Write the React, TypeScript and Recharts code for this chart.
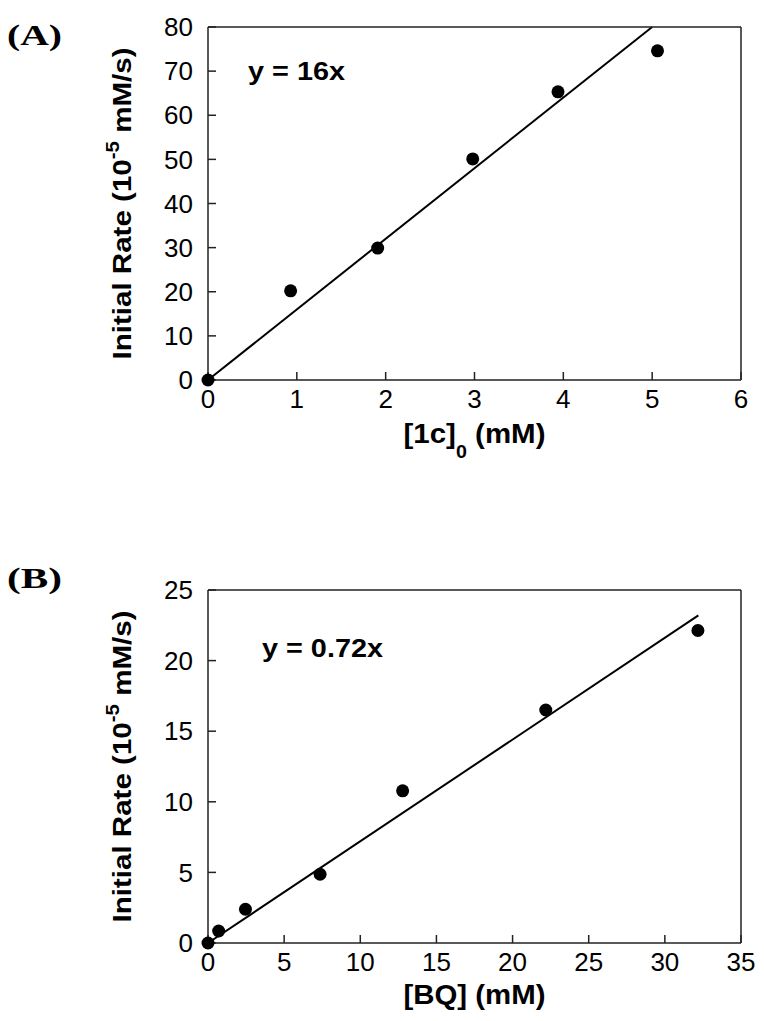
import React from 'react';
import { ComposedChart, Line, Scatter, XAxis, YAxis } from 'recharts';

// panel A: initial rate vs [1c]0
const concA = [0, 0.93, 1.91, 2.98, 3.94, 5.06];
const rateA = [0, 20.2, 29.9, 50.1, 65.3, 74.6];
const fitAx = [0, 5];
const fitAy = [0, 80];
const ticksAx = [0, 1, 2, 3, 4, 5, 6];
const ticksAy = [0, 10, 20, 30, 40, 50, 60, 70, 80];

// panel B: initial rate vs [BQ]
const concB = [0, 0.7, 2.46, 7.36, 12.78, 22.18, 32.17];
const rateB = [0, 0.85, 2.39, 4.87, 10.78, 16.5, 22.13];
const fitBx = [0, 32.2];
const fitBy = [0, 23.2];
const ticksBx = [0, 5, 10, 15, 20, 25, 30, 35];
const ticksBy = [0, 5, 10, 15, 20, 25];

const FONT = '"Liberation Sans", Arial, Helvetica, sans-serif';
const SERIF = '"Liberation Serif", "Times New Roman", serif';
const AXIS = '#222';

const toPoints = (xs: number[], ys: number[]) => xs.map((x, i) => ({ x, y: ys[i] }));

const Dot = (props: any) => <circle cx={props.cx} cy={props.cy} r={6.5} fill="#000" />;
const NoTick = () => <g />;

const tickStyle = { fontFamily: FONT, fontSize: 26, fill: '#000' };

// the original lettering is wide, so stretch the bold labels a little
const yLabel = (props: any) => {
  const vb = props.viewBox;
  const cx = vb.x - 17;
  const cy = vb.y + vb.height / 2;
  return (
    <text
      x={cx}
      y={cy}
      transform={`rotate(-90, ${cx}, ${cy})`}
      textAnchor="middle"
      fontFamily={FONT}
      fontWeight="bold"
      fontSize={26}
      fill="#000"
      textLength={312}
      lengthAdjust="spacingAndGlyphs"
    >
      Initial Rate (10
      <tspan dy={-12} fontSize={18}>-5</tspan>
      <tspan dy={12}> mM/s)</tspan>
    </text>
  );
};

const xLabelA = (props: any) => {
  const vb = props.viewBox;
  return (
    <text
      x={vb.x + vb.width / 2}
      y={vb.y + 63}
      textAnchor="middle"
      fontFamily={FONT}
      fontWeight="bold"
      fontSize={27}
      fill="#000"
      textLength={142}
      lengthAdjust="spacingAndGlyphs"
    >
      [1c]
      <tspan dy={15} fontSize={18}>0</tspan>
      <tspan dy={-15}> (mM)</tspan>
    </text>
  );
};

const xLabelB = (props: any) => {
  const vb = props.viewBox;
  return (
    <text
      x={vb.x + vb.width / 2}
      y={vb.y + 61}
      textAnchor="middle"
      fontFamily={FONT}
      fontWeight="bold"
      fontSize={27}
      fill="#000"
      textLength={142}
      lengthAdjust="spacingAndGlyphs"
    >
      [BQ] (mM)
    </text>
  );
};

interface PanelProps {
  points: { x: number; y: number }[];
  fit: { x: number; y: number }[];
  xDomain: [number, number];
  yDomain: [number, number];
  xTicks: number[];
  yTicks: number[];
  height: number;
  margin: { top: number; right: number; bottom: number; left: number };
  xLabel: (p: any) => React.ReactElement;
  equation: string;
  eqPos: { x: number; y: number; len: number };
}

const Panel = ({ points, fit, xDomain, yDomain, xTicks, yTicks, height, margin, xLabel, equation, eqPos }: PanelProps) => (
  <ComposedChart width={764} height={height} margin={margin}>
    <XAxis
      xAxisId="main"
      type="number"
      dataKey="x"
      domain={xDomain}
      ticks={xTicks}
      interval={0}
      height={30}
      tickSize={-8}
      tickMargin={18}
      tick={tickStyle}
      stroke={AXIS}
      strokeWidth={1.5}
      label={{ content: xLabel }}
    />
    <XAxis
      xAxisId="top"
      orientation="top"
      type="number"
      dataKey="x"
      domain={xDomain}
      ticks={xTicks}
      interval={0}
      height={1}
      tickSize={-8}
      tick={NoTick}
      stroke={AXIS}
      strokeWidth={1.5}
    />
    <YAxis
      yAxisId="main"
      type="number"
      dataKey="y"
      domain={yDomain}
      ticks={yTicks}
      interval={0}
      width={60}
      tickSize={-8}
      tickMargin={23}
      tick={tickStyle}
      stroke={AXIS}
      strokeWidth={1.5}
      label={{ content: yLabel }}
    />
    <YAxis
      yAxisId="right"
      orientation="right"
      type="number"
      dataKey="y"
      domain={yDomain}
      ticks={yTicks}
      interval={0}
      width={1}
      tickSize={-8}
      tick={NoTick}
      stroke={AXIS}
      strokeWidth={1.5}
    />
    <Line
      xAxisId="main"
      yAxisId="main"
      data={fit}
      dataKey="y"
      type="linear"
      stroke="#000"
      strokeWidth={2}
      dot={false}
      isAnimationActive={false}
    />
    <Scatter
      xAxisId="main"
      yAxisId="main"
      data={points}
      dataKey="y"
      fill="#000"
      shape={Dot}
      isAnimationActive={false}
    />
    <text
      x={eqPos.x}
      y={eqPos.y}
      fontFamily={FONT}
      fontWeight="bold"
      fontSize={25}
      fill="#000"
      textLength={eqPos.len}
      lengthAdjust="spacingAndGlyphs"
    >
      {equation}
    </text>
  </ComposedChart>
);

const PanelTag = ({ text, top }: { text: string; top: number }) => (
  <svg width={80} height={40} style={{ position: 'absolute', left: 0, top }}>
    <text x={7} y={29} fontFamily={SERIF} fontWeight="bold" fontSize={30} textLength={55} lengthAdjust="spacingAndGlyphs">
      {text}
    </text>
  </svg>
);

export default function App() {
  return (
    <div style={{ position: 'absolute', left: 0, top: 0, width: 764, height: 1021, background: '#fff' }}>
      <div style={{ position: 'absolute', left: 0, top: 0 }}>
        <Panel
          points={toPoints(concA, rateA)}
          fit={toPoints(fitAx, fitAy)}
          xDomain={[0, 6]}
          yDomain={[0, 80]}
          xTicks={ticksAx}
          yTicks={ticksAy}
          height={470}
          margin={{ top: 26, right: 22, bottom: 60, left: 148 }}
          xLabel={xLabelA}
          equation="y = 16x"
          eqPos={{ x: 248, y: 80, len: 97 }}
        />
      </div>
      <div style={{ position: 'absolute', left: 0, top: 560 }}>
        <Panel
          points={toPoints(concB, rateB)}
          fit={toPoints(fitBx, fitBy)}
          xDomain={[0, 35]}
          yDomain={[0, 25]}
          xTicks={ticksBx}
          yTicks={ticksBy}
          height={461}
          margin={{ top: 29, right: 22, bottom: 48, left: 148 }}
          xLabel={xLabelB}
          equation="y = 0.72x"
          eqPos={{ x: 262, y: 97, len: 121 }}
        />
      </div>
      <PanelTag text="(A)" top={16} />
      <PanelTag text="(B)" top={559} />
    </div>
  );
}
